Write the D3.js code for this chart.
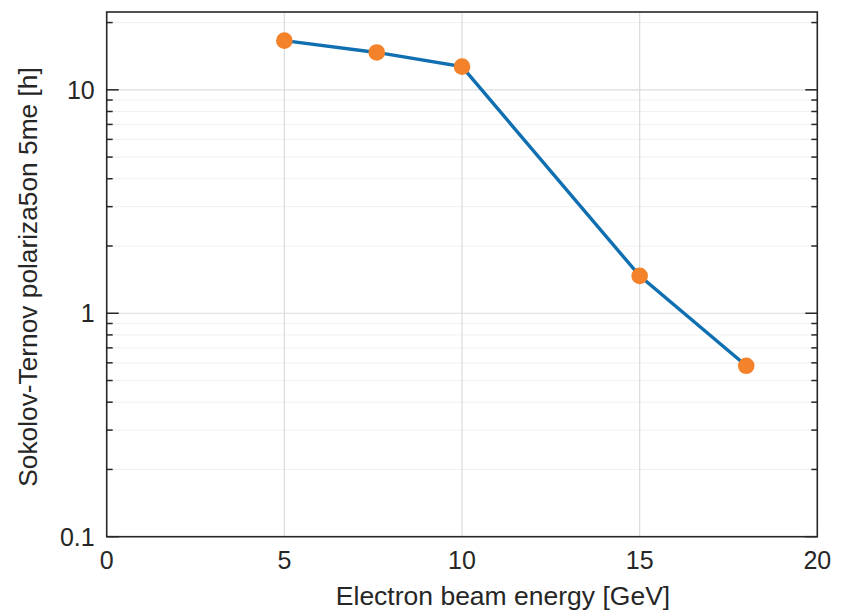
<!DOCTYPE html>
<html><head><meta charset="utf-8">
<script src="https://cdn.jsdelivr.net/npm/d3@7"></script>
<style>body{margin:0;background:#fff}svg{display:block}text{font-family:"Liberation Sans",Arial,Helvetica,sans-serif;fill:#262626}</style>
</head><body>
<script>
const energy = [5, 7.6, 10, 15, 18];
const polTime = [16.6, 14.7, 12.7, 1.47, 0.582];
const xTicks = [0, 5, 10, 15, 20];
const yTicks = [0.1, 1, 10];
const yTickLabels = ["0.1", "1", "10"];

const W = 841, H = 615;
const m = {l: 106.7, r: 841 - 817.3, t: 12, b: 615 - 536.7};
const svg = d3.select("body").append("svg").attr("width", W).attr("height", H);
const x = d3.scaleLinear().domain([0, 20]).range([m.l, W - m.r]);
const y = d3.scaleLog().domain([0.1, 22.3]).range([H - m.b, m.t]);

const g = svg.append("g");
// minor grid
const minor = [];
for (let d = 0.1; d < 100; d *= 10) for (let k = 2; k <= 9; k++) { const v = d * k; if (v <= 22.3) minor.push(v); }
g.selectAll(".mg").data(minor).join("line")
  .attr("x1", x(0)).attr("x2", x(20)).attr("y1", d => y(d)).attr("y2", d => y(d))
  .attr("stroke", "#f0f0f0").attr("stroke-width", 1);
// major grid
g.selectAll(".yg").data([1, 10]).join("line")
  .attr("x1", x(0)).attr("x2", x(20)).attr("y1", d => y(d)).attr("y2", d => y(d))
  .attr("stroke", "#dcdcdc").attr("stroke-width", 1.2);
g.selectAll(".xg").data([5, 10, 15]).join("line")
  .attr("y1", y.range()[0]).attr("y2", y.range()[1]).attr("x1", d => x(d)).attr("x2", d => x(d))
  .attr("stroke", "#dcdcdc").attr("stroke-width", 1.2);

// y ticks (inward) left & right
const tickG = svg.append("g");
[[x(0), 1], [x(20), -1]].forEach(([x0, dir]) => {
  tickG.selectAll(null).data(minor).join("line")
    .attr("x1", x0).attr("x2", x0 + dir * 6).attr("y1", d => y(d)).attr("y2", d => y(d))
    .attr("stroke", "#262626").attr("stroke-width", 1.5);
  tickG.selectAll(null).data(yTicks).join("line")
    .attr("x1", x0).attr("x2", x0 + dir * 12).attr("y1", d => y(d)).attr("y2", d => y(d))
    .attr("stroke", "#262626").attr("stroke-width", 1.5);
});

// box
svg.append("rect").attr("x", x(0)).attr("y", y.range()[1]).attr("width", x(20) - x(0))
  .attr("height", y.range()[0] - y.range()[1]).attr("fill", "none").attr("stroke", "#262626").attr("stroke-width", 1.6);

// tick labels
svg.selectAll(".yl").data(yTicks).join("text")
  .attr("x", x(0) - 12).attr("y", d => y(d) + 9).attr("text-anchor", "end")
  .attr("font-size", 25).text((d, i) => yTickLabels[i]);
svg.selectAll(".xl").data(xTicks).join("text")
  .attr("x", d => x(d)).attr("y", H - m.b + 32).attr("text-anchor", "middle")
  .attr("font-size", 25).text(d => d);

// axis labels
svg.append("text").attr("x", 503).attr("y", 605).attr("text-anchor", "middle")
  .attr("font-size", 26.5).text("Electron beam energy [GeV]");
svg.append("text").attr("transform", `translate(37,277) rotate(-90)`)
  .attr("text-anchor", "middle").attr("font-size", 26.3).text("Sokolov-Ternov polariza5on 5me [h]");

// data
const pts = energy.map((e, i) => [e, polTime[i]]);
svg.append("path").datum(pts)
  .attr("d", d3.line().x(d => x(d[0])).y(d => y(d[1])))
  .attr("fill", "none").attr("stroke", "#0F6FB0").attr("stroke-width", 3.4);
svg.selectAll(".pt").data(pts).join("circle")
  .attr("cx", d => x(d[0])).attr("cy", d => y(d[1])).attr("r", 8.3)
  .attr("fill", "#F3822A");
</script>
</body></html>
